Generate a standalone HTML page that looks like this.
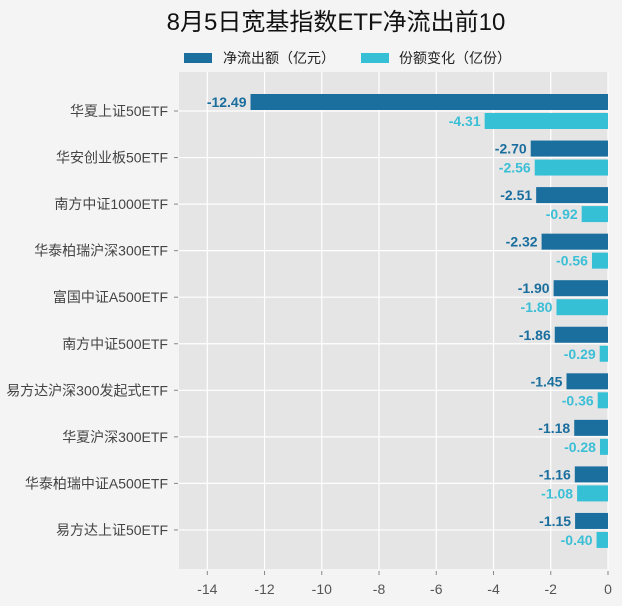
<!DOCTYPE html>
<html><head><meta charset="utf-8"><style>
body{margin:0;background:#f4f4f4;}
svg{display:block;font-family:"Liberation Sans","Noto Sans CJK SC",sans-serif;}
</style></head><body>
<svg width="622" height="606" viewBox="0 0 622 606" xmlns="http://www.w3.org/2000/svg">
<rect width="622" height="606" fill="#f4f4f4"/>
<text x="336" y="30" font-size="24" text-anchor="middle" fill="#111">8月5日宽基指数ETF净流出前10</text>
<rect x="184" y="53" width="28" height="10" fill="#1a6f9f"/>
<text x="223" y="63" font-size="14" fill="#222">净流出额（亿元）</text>
<rect x="361" y="53" width="28" height="10" fill="#36c0d6"/>
<text x="399" y="63" font-size="14" fill="#222">份额变化（亿份）</text>
<rect x="179" y="72" width="429" height="497" fill="#e5e5e5"/>
<g id="grid" stroke="#fff" stroke-width="1.2"></g>
<g id="bars"></g>
</svg>
<script>
const ns="http://www.w3.org/2000/svg",svg=document.querySelector('svg');
function el(t,a,txt,p){const e=document.createElementNS(ns,t);for(const k in a)e.setAttribute(k,a[k]);if(txt!=null)e.textContent=txt;(p||svg).appendChild(e);return e;}
const g=document.getElementById('grid'),b=document.getElementById('bars');
const u=(608-207.3)/14,x0=608;
for(let v=-14;v<=0;v+=2){const x=x0+v*u;el('line',{x1:x,x2:x,y1:72,y2:569},null,g);
 el('line',{x1:x,x2:x,y1:571,y2:575,stroke:'#888'});
 el('text',{x:x,y:594,'font-size':14,'text-anchor':'middle',fill:'#555'},String(v));}
const d=[["华夏上证50ETF",-12.49,-4.31],["华安创业板50ETF",-2.70,-2.56],["南方中证1000ETF",-2.51,-0.92],["华泰柏瑞沪深300ETF",-2.32,-0.56],["富国中证A500ETF",-1.90,-1.80],["南方中证500ETF",-1.86,-0.29],["易方达沪深300发起式ETF",-1.45,-0.36],["华夏沪深300ETF",-1.18,-0.28],["华泰柏瑞中证A500ETF",-1.16,-1.08],["易方达上证50ETF",-1.15,-0.40]];
d.forEach((r,i)=>{const c=111+46.55*i;
 el('line',{x1:179,x2:608,y1:c,y2:c},null,g);
 el('line',{x1:174,x2:178,y1:c,y2:c,stroke:'#888'});
 el('text',{x:168,y:c+5,'font-size':14,'text-anchor':'end',fill:'#444'},r[0]);
 let w=-r[1]*u;el('rect',{x:x0-w,y:c-17,width:w,height:16,fill:'#1a6f9f'},null,b);
 el('text',{x:x0-w-4,y:c-4,'font-size':14,'font-weight':'bold','text-anchor':'end',fill:'#1a6e9e'},r[1].toFixed(2),b);
 w=-r[2]*u;el('rect',{x:x0-w,y:c+2,width:w,height:16,fill:'#36c0d6'},null,b);
 el('text',{x:x0-w-4,y:c+15,'font-size':14,'font-weight':'bold','text-anchor':'end',fill:'#3bbfd6'},r[2].toFixed(2),b);
});
</script>
</body></html>
